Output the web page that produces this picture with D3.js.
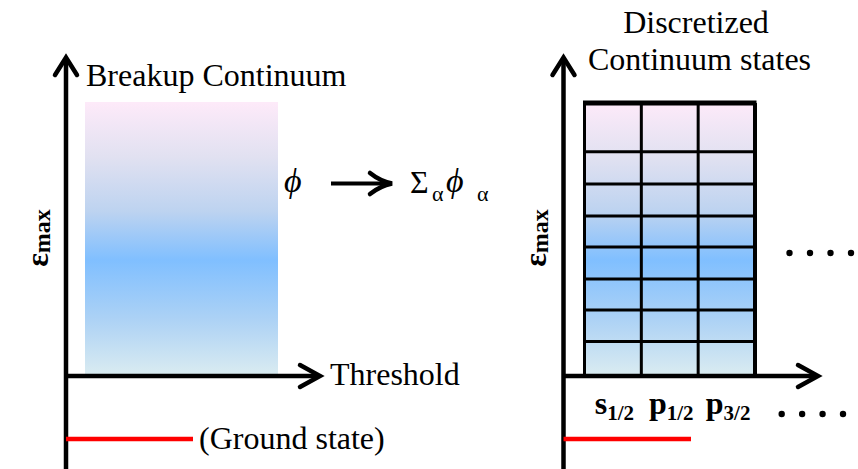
<!DOCTYPE html>
<html>
<head>
<meta charset="utf-8">
<script src="https://cdn.jsdelivr.net/npm/d3@7"></script>
<style>
  html, body { margin: 0; padding: 0; background: #fff; font-family: "Liberation Serif", "Times New Roman", serif; }
  svg { display: block; }
  svg text { font-family: "Liberation Serif", "Times New Roman", Tinos, serif !important; }
</style>
</head>
<body>
<svg id="fig" width="858" height="469"></svg>
<script>
// Energy axis: 0 = breakup threshold, 1 = ε_max
const binEdges = [0, 0.12, 0.236, 0.351, 0.469, 0.583, 0.701, 0.82, 1];
const groundEnergy = -0.24;
// Partial waves of the discretized continuum
const waveLetters = ["s", "p", "p"];
const waveJ = ["1/2", "1/2", "3/2"];
const dotCount = 4;

const SERIF = "Liberation Serif, Times New Roman, serif";
const svg = d3.select("#fig");
const W = 858, H = 469;

const y = d3.scaleLinear().domain([0, 1]).range([374, 103]);

// shared colour ramp along the energy axis
const defs = svg.append("defs");
const grad = defs.append("linearGradient")
  .attr("id", "cont").attr("gradientUnits", "userSpaceOnUse")
  .attr("x1", 0).attr("x2", 0).attr("y1", y(1)).attr("y2", y(0));
[[0, "#fdeaf9"], [0.2, "#e1e1f1"], [0.4, "#bdd3f0"], [0.58, "#80bfff"],
 [0.8, "#add2f5"], [1, "#d9ebf1"]].forEach(([o, c]) =>
  grad.append("stop").attr("offset", o).attr("stop-color", c));

const AX = 4.5;

function txt(g) {
  return g.append("text").attr("font-family", SERIF).attr("fill", "#000");
}

function axes(g, x0, xTip) {
  // vertical energy axis
  g.append("line").attr("x1", x0).attr("x2", x0).attr("y1", H + 2).attr("y2", 58)
    .attr("stroke", "#000").attr("stroke-width", AX);
  g.append("path").attr("d", `M${x0 - 11},75L${x0},57.5L${x0 + 11},75`)
    .attr("fill", "none").attr("stroke", "#000").attr("stroke-width", AX)
    .attr("stroke-linejoin", "miter").attr("stroke-linecap", "round");
  // horizontal threshold axis
  g.append("line").attr("x1", x0).attr("x2", xTip - 2).attr("y1", y(0) + 2).attr("y2", y(0) + 2)
    .attr("stroke", "#000").attr("stroke-width", AX);
  g.append("path").attr("d", `M${xTip - 20},${y(0) - 9}L${xTip},${y(0) + 2}L${xTip - 20},${y(0) + 13}`)
    .attr("fill", "none").attr("stroke", "#000").attr("stroke-width", AX)
    .attr("stroke-linejoin", "miter").attr("stroke-linecap", "round");
  // ε_max label
  const t = txt(g)
    .attr("transform", `translate(${x0 - 18},238) rotate(-90)`)
    .attr("text-anchor", "middle").attr("font-weight", "bold");
  t.append("tspan").attr("font-size", 32).text("ε");
  t.append("tspan").attr("font-size", 24).attr("dy", 2).text("max");
}

// ---------- left: breakup continuum ----------
const L = svg.append("g");
const xL = d3.scaleLinear().domain([0, 1]).range([85, 278]);
L.append("rect")
  .attr("x", xL(0)).attr("width", xL(1) - xL(0))
  .attr("y", y(1) - 1).attr("height", y(0) - y(1) + 1)
  .attr("fill", "url(#cont)");
axes(L, 66, 320);

txt(L).attr("x", 86).attr("y", 86).attr("font-size", 32).text("Breakup Continuum");
txt(L).attr("x", 330).attr("y", 385).attr("font-size", 32).text("Threshold");

// ground state
L.append("line").attr("x1", 66).attr("x2", 193).attr("y1", y(groundEnergy)).attr("y2", y(groundEnergy))
  .attr("stroke", "#ff0000").attr("stroke-width", 4.5);
txt(L).attr("x", 199).attr("y", 449).attr("font-size", 32).text("(Ground state)");

// ϕ → Σ_α ϕ_α
txt(L).attr("x", 284).attr("y", 192).attr("font-size", 34).attr("font-style", "italic").text("ϕ");
L.append("line").attr("x1", 331).attr("x2", 386).attr("y1", 183.5).attr("y2", 183.5)
  .attr("stroke", "#000").attr("stroke-width", 4);
L.append("path").attr("d", "M370,173 Q380,181 392,183.5 Q380,186 370,194")
  .attr("fill", "none").attr("stroke", "#000").attr("stroke-width", 4.5).attr("stroke-linecap", "round");
const sum = txt(L).attr("y", 193).attr("font-size", 32);
sum.append("tspan").attr("x", 410).text("Σ");
sum.append("tspan").attr("x", 432).attr("y", 201).attr("font-size", 22).text("α");
sum.append("tspan").attr("x", 446).attr("y", 192).attr("font-size", 34).attr("font-style", "italic").text("ϕ");
sum.append("tspan").attr("x", 477).attr("y", 201).attr("font-size", 22).text("α");

// ---------- right: discretized continuum ----------
const R = svg.append("g");
const xR = d3.scaleBand().domain(d3.range(waveLetters.length)).range([584.5, 755]).paddingInner(0);
const gx0 = xR.range()[0], gx1 = xR.range()[1];

R.append("rect").attr("x", gx0).attr("width", gx1 - gx0)
  .attr("y", y(1)).attr("height", y(0) - y(1)).attr("fill", "url(#cont)");

// bin boundaries (energy) and partial-wave boundaries
R.selectAll("line.bin").data(binEdges.slice(1)).join("line").attr("class", "bin")
  .attr("x1", gx0 - 1.5).attr("x2", gx1 + 1.5)
  .attr("y1", d => y(d)).attr("y2", d => y(d))
  .attr("stroke", "#000").attr("stroke-width", d => d === 1 ? 5 : 3);
const colEdges = xR.domain().map(i => xR(i)).concat([gx1]);
R.selectAll("line.col").data(colEdges).join("line").attr("class", "col")
  .attr("x1", d => d).attr("x2", d => d)
  .attr("y1", y(1)).attr("y2", y(0))
  .attr("stroke", "#000").attr("stroke-width", (d, i) => i === colEdges.length - 1 ? 4 : 3);

axes(R, 563.5, 818);

const head = txt(R).attr("text-anchor", "middle").attr("font-size", 32);
head.append("tspan").attr("x", 696).attr("y", 33).text("Discretized");
head.append("tspan").attr("x", 699.5).attr("y", 70).text("Continuum states");

// partial wave labels
R.selectAll("text.wave").data(waveLetters).join("text").attr("class", "wave")
  .attr("font-family", SERIF)
  .attr("x", (d, i) => xR(i) + xR.bandwidth() / 2 + 1.5)
  .attr("y", 414).attr("text-anchor", "middle").attr("font-weight", "bold")
  .each(function (d, i) {
    const t = d3.select(this);
    t.append("tspan").attr("font-size", 32).text(d);
    t.append("tspan").attr("font-size", 21).attr("dy", 6).text(waveJ[i]);
  });

// continuation dots (more partial waves)
const dotsUpper = d3.scaleLinear().domain([0, dotCount - 1]).range([789.5, 851]);
const dotsLower = d3.scaleLinear().domain([0, dotCount - 1]).range([781.7, 843]);
R.selectAll("circle.up").data(d3.range(dotCount)).join("circle").attr("class", "up")
  .attr("cx", d => dotsUpper(d)).attr("cy", 253).attr("r", 3.2).attr("fill", "#000");
R.selectAll("circle.lo").data(d3.range(dotCount)).join("circle").attr("class", "lo")
  .attr("cx", d => dotsLower(d)).attr("cy", 414).attr("r", 3.2).attr("fill", "#000");

// ground state
R.append("line").attr("x1", 563.5).attr("x2", 691).attr("y1", y(groundEnergy)).attr("y2", y(groundEnergy))
  .attr("stroke", "#ff0000").attr("stroke-width", 4.5);
</script>
</body>
</html>
